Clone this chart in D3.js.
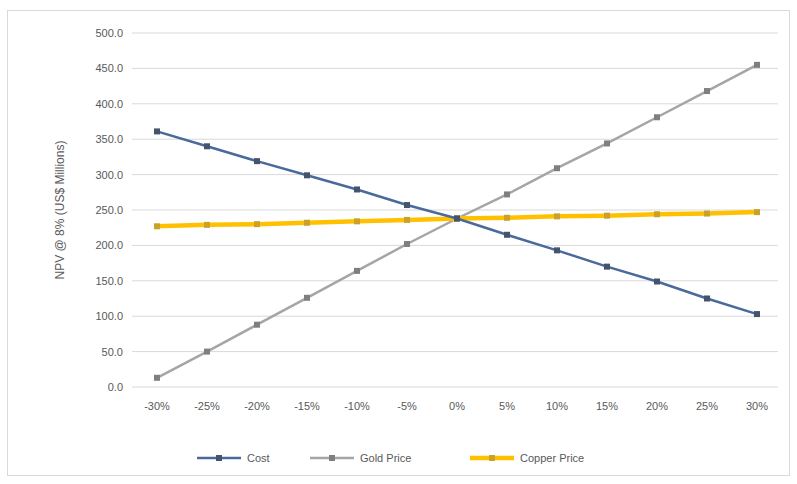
<!DOCTYPE html>
<html><head><meta charset="utf-8">
<script src="https://cdn.jsdelivr.net/npm/d3@7"></script>
<style>body{margin:0;background:#fff;font-family:"Liberation Sans",Arial,sans-serif;}</style>
</head><body><svg id="c" width="797" height="484"></svg>
<script>
const categories = ["-30%","-25%","-20%","-15%","-10%","-5%","0%","5%","10%","15%","20%","25%","30%"];
const costValues = [361, 340, 319, 299, 279, 257, 238, 215, 193, 170, 149, 125, 103];
const goldValues = [13, 50, 88, 126, 164, 202, 238, 272, 309, 344, 381, 418, 455];
const copperValues = [227, 229, 230, 232, 234, 236, 238, 239, 241, 242, 244, 245, 247];
const yTicks = [0,50,100,150,200,250,300,350,400,450,500];
const seriesNames = ["Cost","Gold Price","Copper Price"];
const colors = ["#4a6a9c","#a5a5a5","#ffc000"];
const markerColors = ["#44546a","#7f7f7f","#c9a227"];
const widths = [2.5,2.5,4.5];

const svg = d3.select("#c");
svg.append("rect").attr("x",7.5).attr("y",10.5).attr("width",782).attr("height",465).attr("fill","#fff").attr("stroke","#d9d9d9");

const x = d3.scaleBand().domain(categories).range([132,782]);
const y = d3.scaleLinear().domain([0,500]).range([387,33]);

const grid = svg.append("g");
yTicks.forEach(t=>{
  grid.append("line").attr("x1",132).attr("x2",778).attr("y1",y(t)).attr("y2",y(t)).attr("stroke","#d9d9d9").attr("stroke-width",1);
});
const yAxis = svg.append("g").attr("transform","translate(126,0)")
  .call(d3.axisLeft(y).tickValues(yTicks).tickFormat(d=>d.toFixed(1)).tickSize(0));
yAxis.select(".domain").remove();
yAxis.selectAll("text").attr("fill","#595959").style("font-size","11px").attr("font-family","Liberation Sans, Arial");

const xAxis = svg.append("g").attr("transform","translate(0,399)")
  .call(d3.axisBottom(x).tickSize(0));
xAxis.select(".domain").remove();
xAxis.selectAll("text").attr("fill","#595959").style("font-size","11px").attr("font-family","Liberation Sans, Arial");

svg.append("text").attr("transform","translate(64,210) rotate(-90)").attr("text-anchor","middle")
  .attr("fill","#595959").style("font-size","12px").text("NPV @ 8% (US$ Millions)");

const data = [costValues, goldValues, copperValues];
const line = d3.line().x((d,i)=>x(categories[i])+x.bandwidth()/2).y(d=>y(d));
[1,2,0].forEach(k=>{
  svg.append("path").datum(data[k]).attr("d",line).attr("fill","none").attr("stroke",colors[k]).attr("stroke-width",widths[k]);
  svg.append("g").selectAll("rect").data(data[k]).join("rect")
    .attr("x",(d,i)=>x(categories[i])+x.bandwidth()/2-3).attr("y",d=>y(d)-3)
    .attr("width",6).attr("height",6).attr("fill",markerColors[k]);
});

const legendX = [197, 310, 470];
seriesNames.forEach((n,k)=>{
  const g = svg.append("g").attr("transform",`translate(${legendX[k]},458)`);
  g.append("line").attr("x1",0).attr("x2",44).attr("stroke",colors[k]).attr("stroke-width",widths[k]);
  g.append("rect").attr("x",19).attr("y",-3).attr("width",6).attr("height",6).attr("fill",markerColors[k]);
  g.append("text").attr("x",50).attr("y",4).attr("fill","#595959").style("font-size","11px").text(n);
});
</script></body></html>
